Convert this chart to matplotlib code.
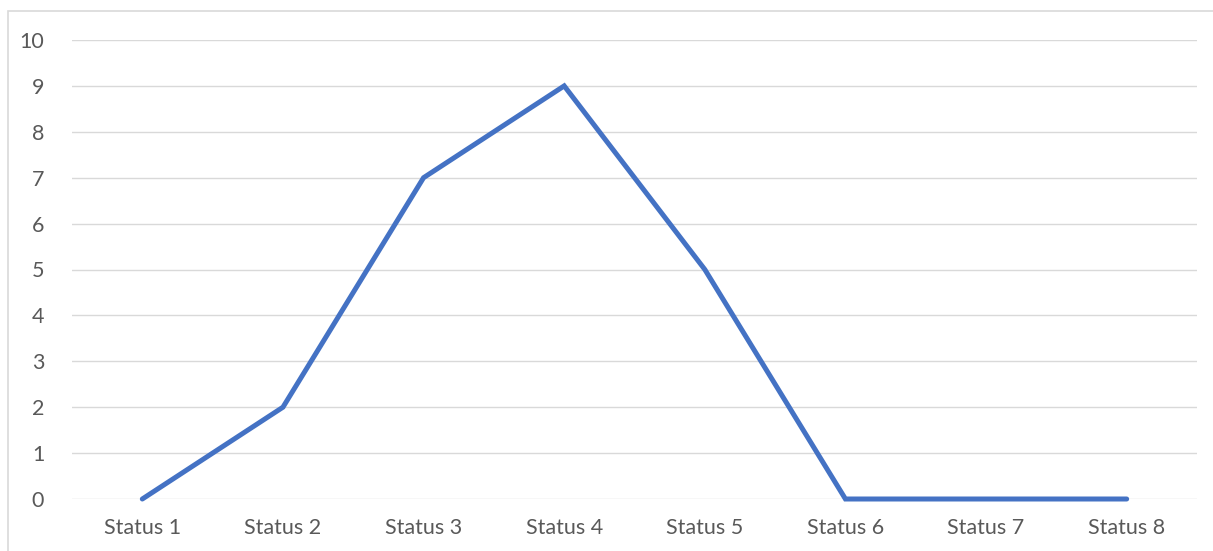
import matplotlib
matplotlib.use("Agg")
import matplotlib.pyplot as plt
from matplotlib.patches import Rectangle

categories = ["Status 1", "Status 2", "Status 3", "Status 4",
              "Status 5", "Status 6", "Status 7", "Status 8"]
values = [0, 2, 7, 9, 5, 0, 0, 0]
y_ticks = list(range(0, 11))

W, H = 1213, 551
fig = plt.figure(figsize=(W / 100, H / 100), dpi=100)
plt.rcParams['font.family'] = ['Lato', 'DejaVu Sans']

# outer chart-area border
fig.patches.append(Rectangle((8 / W, -0.1), 1.2, 1 - 11 / H + 0.1,
                             transform=fig.transFigure, fill=False,
                             edgecolor="#D9D9D9", linewidth=1.2))

ax = fig.add_axes([72 / W, 1 - 499 / H, (1197 - 72) / W, (499 - 40) / H])
x = list(range(len(categories)))
ax.plot(x, values, color="#4472C4", linewidth=3.6, solid_capstyle="round",
        solid_joinstyle="miter", zorder=3, clip_on=False)

ax.set_xlim(-0.5, len(categories) - 0.5)
ax.set_ylim(0, 10)
ax.set_yticks(y_ticks)
ax.set_xticks(x)
ax.set_xticklabels(categories)
ax.grid(axis="y", color="#D9D9D9", linewidth=1)
ax.set_axisbelow(True)
for s in ax.spines.values():
    s.set_visible(False)
ax.tick_params(axis="both", length=0, labelsize=15.5, labelcolor="#595959")
ax.tick_params(axis="y", pad=20)
ax.tick_params(axis="x", pad=14)

fig.savefig("out.png", dpi=100)
